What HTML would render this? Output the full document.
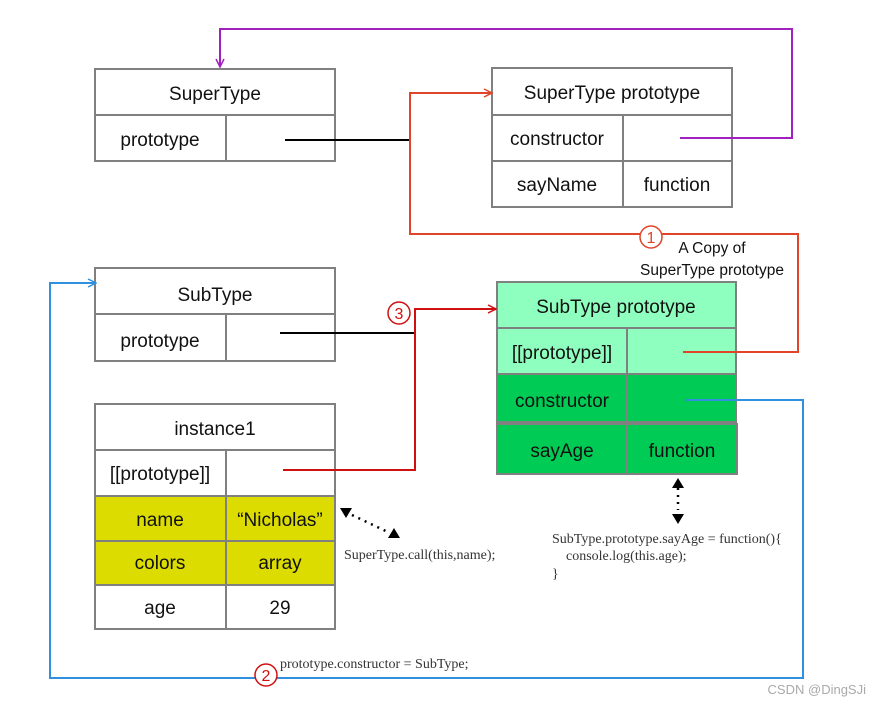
<html><body style="margin:0;background:#fff">
<svg width="870" height="705" xmlns="http://www.w3.org/2000/svg" font-family="Liberation Sans, sans-serif">
<defs>
<marker id="o" markerWidth="10" markerHeight="10" refX="9" refY="5" orient="auto" markerUnits="userSpaceOnUse"><path d="M1,1 L9,5 L1,9" fill="none" stroke="#e0452a" stroke-width="1.5"/></marker>
<marker id="r" markerWidth="10" markerHeight="10" refX="9" refY="5" orient="auto" markerUnits="userSpaceOnUse"><path d="M1,1 L9,5 L1,9" fill="none" stroke="#d01010" stroke-width="1.5"/></marker>
<marker id="p" markerWidth="10" markerHeight="10" refX="9" refY="5" orient="auto" markerUnits="userSpaceOnUse"><path d="M1,1 L9,5 L1,9" fill="none" stroke="#a020c0" stroke-width="1.5"/></marker>
<marker id="b" markerWidth="10" markerHeight="10" refX="9" refY="5" orient="auto" markerUnits="userSpaceOnUse"><path d="M1,1 L9,5 L1,9" fill="none" stroke="#3090e0" stroke-width="1.5"/></marker>
</defs>
<g fill="#fff" stroke="#808080" stroke-width="2">
<rect x="95" y="69" width="240" height="92"/><line x1="95" y1="115" x2="335" y2="115"/><line x1="226" y1="115" x2="226" y2="161"/>
<rect x="492" y="68" width="240" height="139"/><line x1="492" y1="115" x2="732" y2="115"/><line x1="492" y1="161" x2="732" y2="161"/><line x1="623" y1="115" x2="623" y2="207"/>
<rect x="95" y="268" width="240" height="93"/><line x1="95" y1="314" x2="335" y2="314"/><line x1="226" y1="314" x2="226" y2="361"/>
<rect x="95" y="404" width="240" height="225"/>
<rect x="95" y="496" width="240" height="89" fill="#dcdc00"/>
<line x1="95" y1="450" x2="335" y2="450"/><line x1="95" y1="541" x2="335" y2="541"/><line x1="226" y1="450" x2="226" y2="629"/>
<rect x="497" y="282" width="239" height="92" fill="#8effbe"/><line x1="497" y1="328" x2="736" y2="328"/><line x1="627" y1="328" x2="627" y2="374"/>
<rect x="497" y="374" width="239" height="48" fill="#00cc55"/><rect x="497" y="424" width="240" height="50" fill="#00cc55"/>
<line x1="627" y1="374" x2="627" y2="474"/>
</g>
<g font-size="19" text-anchor="middle" fill="#111">
<text x="215" y="100">SuperType</text><text x="160" y="146">prototype</text>
<text x="612" y="99">SuperType prototype</text><text x="557" y="145">constructor</text><text x="557" y="191">sayName</text><text x="677" y="191">function</text>
<text x="215" y="301">SubType</text><text x="160" y="347">prototype</text>
<text x="215" y="435">instance1</text><text x="160" y="480">[[prototype]]</text>
<text x="160" y="526">name</text><text x="280" y="526">“Nicholas”</text><text x="160" y="569">colors</text><text x="280" y="569">array</text>
<text x="160" y="614">age</text><text x="280" y="614">29</text>
<text x="616" y="313">SubType prototype</text><text x="562" y="359">[[prototype]]</text><text x="562" y="407">constructor</text>
<text x="562" y="457">sayAge</text><text x="682" y="457">function</text>
</g>
<g fill="none" stroke-width="2">
<line x1="285" y1="140" x2="410" y2="140" stroke="#000"/>
<line x1="280" y1="333" x2="415" y2="333" stroke="#000"/>
<path d="M410,140 L410,93 L492,93" stroke="#e0452a" marker-end="url(#o)"/>
<path d="M410,140 L410,234 L798,234 L798,352 L683,352" stroke="#e0452a"/>
<path d="M680,138 L792,138 L792,29 L220,29 L220,67" stroke="#a020c0" marker-end="url(#p)"/>
<path d="M283,470 L415,470 L415,309 L496,309" stroke="#d01010" marker-end="url(#r)"/>
<path d="M685,400 L803,400 L803,678 L50,678 L50,283 L96,283" stroke="#3090e0" marker-end="url(#b)"/>
</g>
<g fill="#fff" stroke-width="1.5">
<circle cx="651" cy="237" r="11" stroke="#e0452a"/><circle cx="399" cy="313" r="11" stroke="#d01010"/><circle cx="266" cy="675" r="11" stroke="#d01010"/>
</g>
<g font-size="16" text-anchor="middle">
<text x="651" y="243" fill="#e0452a">1</text><text x="399" y="319" fill="#d01010">3</text><text x="266" y="681" fill="#d01010">2</text>
</g>
<text x="712" y="253" font-size="15.5" text-anchor="middle" fill="#111">A Copy of</text>
<text x="712" y="275" font-size="15.5" text-anchor="middle" fill="#111">SuperType prototype</text>
<g font-family="Liberation Serif, serif" font-size="14" fill="#333">
<text x="344" y="559">SuperType.call(this,name);</text>
<text x="552" y="543">SubType.prototype.sayAge = function(){</text>
<text x="566" y="560">console.log(this.age);</text>
<text x="552" y="578">}</text>
<text x="280" y="668">prototype.constructor = SubType;</text>
</g>
<line x1="352" y1="515" x2="390" y2="533" stroke="#000" stroke-width="2.5" stroke-dasharray="2,5"/>
<path d="M340,508 L352,508 L346,518Z M400,538 L388,538 L394,528Z" fill="#000"/>
<line x1="678" y1="488" x2="678" y2="510" stroke="#000" stroke-width="2.5" stroke-dasharray="2,5"/>
<path d="M672,488 L684,488 L678,478Z M672,514 L684,514 L678,524Z" fill="#000"/>
<text x="866" y="694" font-size="13" text-anchor="end" fill="#aaa">CSDN @DingSJi</text>
</svg>
</body></html>
